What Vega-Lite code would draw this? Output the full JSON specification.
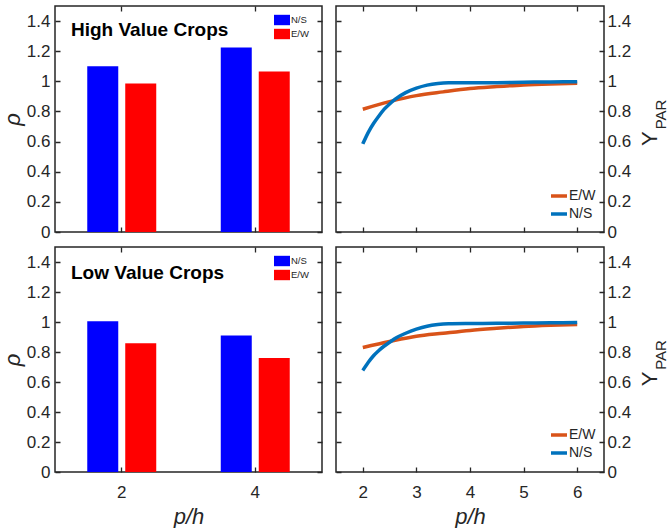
{
  "$schema": "https://vega.github.io/schema/vega-lite/v6.json",
  "padding": {"left": 0, "top": 5, "right": 0, "bottom": 0},
  "background": "white",
  "spacing": 5,
  "config": {
    "font": "Liberation Sans",
    "view": {"stroke": "#262626", "strokeWidth": 1.5},
    "axis": {"domain": false, "grid": true, "gridColor": "#262626", "gridOpacity": 1, "gridWidth": 1.3, "ticks": false, "tickSize": 0, "labelFont": "Liberation Sans", "labelFontSize": 17, "labelColor": "#262626", "labelPadding": 5, "titleFont": "Liberation Sans", "titleColor": "#262626", "titleFontWeight": "normal"},
    "legend": {"labelFont": "Liberation Sans", "labelColor": "#262626"}
  },
  "datasets": {
    "bars": [
      {"crop": "High", "ph": "2", "dir": "N/S", "rho": 1.10},
      {"crop": "High", "ph": "2", "dir": "E/W", "rho": 0.985},
      {"crop": "High", "ph": "4", "dir": "N/S", "rho": 1.225},
      {"crop": "High", "ph": "4", "dir": "E/W", "rho": 1.065},
      {"crop": "Low", "ph": "2", "dir": "N/S", "rho": 1.005},
      {"crop": "Low", "ph": "2", "dir": "E/W", "rho": 0.858},
      {"crop": "Low", "ph": "4", "dir": "N/S", "rho": 0.91},
      {"crop": "Low", "ph": "4", "dir": "E/W", "rho": 0.76}
    ],
    "lines": [
      {"crop": "High", "dir": "E/W", "ph": 2, "ypar": 0.815},
      {"crop": "High", "dir": "E/W", "ph": 2.5, "ypar": 0.865},
      {"crop": "High", "dir": "E/W", "ph": 3, "ypar": 0.905},
      {"crop": "High", "dir": "E/W", "ph": 3.5, "ypar": 0.93},
      {"crop": "High", "dir": "E/W", "ph": 4, "ypar": 0.952},
      {"crop": "High", "dir": "E/W", "ph": 4.5, "ypar": 0.965},
      {"crop": "High", "dir": "E/W", "ph": 5, "ypar": 0.976},
      {"crop": "High", "dir": "E/W", "ph": 5.5, "ypar": 0.983},
      {"crop": "High", "dir": "E/W", "ph": 6, "ypar": 0.988},
      {"crop": "High", "dir": "N/S", "ph": 2, "ypar": 0.585},
      {"crop": "High", "dir": "N/S", "ph": 2.1, "ypar": 0.66},
      {"crop": "High", "dir": "N/S", "ph": 2.2, "ypar": 0.72},
      {"crop": "High", "dir": "N/S", "ph": 2.3, "ypar": 0.77},
      {"crop": "High", "dir": "N/S", "ph": 2.4, "ypar": 0.815},
      {"crop": "High", "dir": "N/S", "ph": 2.5, "ypar": 0.85},
      {"crop": "High", "dir": "N/S", "ph": 2.6, "ypar": 0.88},
      {"crop": "High", "dir": "N/S", "ph": 2.8, "ypar": 0.925},
      {"crop": "High", "dir": "N/S", "ph": 3, "ypar": 0.955},
      {"crop": "High", "dir": "N/S", "ph": 3.2, "ypar": 0.975},
      {"crop": "High", "dir": "N/S", "ph": 3.4, "ypar": 0.986},
      {"crop": "High", "dir": "N/S", "ph": 3.6, "ypar": 0.99},
      {"crop": "High", "dir": "N/S", "ph": 4, "ypar": 0.99},
      {"crop": "High", "dir": "N/S", "ph": 4.5, "ypar": 0.991},
      {"crop": "High", "dir": "N/S", "ph": 5, "ypar": 0.994},
      {"crop": "High", "dir": "N/S", "ph": 5.5, "ypar": 0.996},
      {"crop": "High", "dir": "N/S", "ph": 6, "ypar": 0.998},
      {"crop": "Low", "dir": "E/W", "ph": 2, "ypar": 0.83},
      {"crop": "Low", "dir": "E/W", "ph": 2.5, "ypar": 0.87},
      {"crop": "Low", "dir": "E/W", "ph": 3, "ypar": 0.905},
      {"crop": "Low", "dir": "E/W", "ph": 3.5, "ypar": 0.925},
      {"crop": "Low", "dir": "E/W", "ph": 4, "ypar": 0.944},
      {"crop": "Low", "dir": "E/W", "ph": 4.5, "ypar": 0.958},
      {"crop": "Low", "dir": "E/W", "ph": 5, "ypar": 0.97},
      {"crop": "Low", "dir": "E/W", "ph": 5.5, "ypar": 0.978},
      {"crop": "Low", "dir": "E/W", "ph": 6, "ypar": 0.984},
      {"crop": "Low", "dir": "N/S", "ph": 2, "ypar": 0.677},
      {"crop": "Low", "dir": "N/S", "ph": 2.1, "ypar": 0.73},
      {"crop": "Low", "dir": "N/S", "ph": 2.2, "ypar": 0.775},
      {"crop": "Low", "dir": "N/S", "ph": 2.3, "ypar": 0.81},
      {"crop": "Low", "dir": "N/S", "ph": 2.4, "ypar": 0.84},
      {"crop": "Low", "dir": "N/S", "ph": 2.5, "ypar": 0.865},
      {"crop": "Low", "dir": "N/S", "ph": 2.6, "ypar": 0.89},
      {"crop": "Low", "dir": "N/S", "ph": 2.8, "ypar": 0.925},
      {"crop": "Low", "dir": "N/S", "ph": 3, "ypar": 0.952},
      {"crop": "Low", "dir": "N/S", "ph": 3.2, "ypar": 0.972},
      {"crop": "Low", "dir": "N/S", "ph": 3.4, "ypar": 0.983},
      {"crop": "Low", "dir": "N/S", "ph": 3.6, "ypar": 0.988},
      {"crop": "Low", "dir": "N/S", "ph": 4, "ypar": 0.99},
      {"crop": "Low", "dir": "N/S", "ph": 4.5, "ypar": 0.991},
      {"crop": "Low", "dir": "N/S", "ph": 5, "ypar": 0.993},
      {"crop": "Low", "dir": "N/S", "ph": 5.5, "ypar": 0.995},
      {"crop": "Low", "dir": "N/S", "ph": 6, "ypar": 0.996}
    ]
  },
  "vconcat": [
    {
      "hconcat": [
        {
          "width": 267, "height": 226,
          "data": {"name": "bars"},
          "transform": [{"filter": "datum.crop === 'High'"}],
          "layer": [
            {
              "mark": {"type": "bar"},
              "encoding": {
                "x": {"field": "ph", "type": "nominal", "scale": {"type": "band", "domain": ["2", "4"], "paddingInner": 0, "paddingOuter": 0}, "axis": {"orient": "bottom", "labels": false, "title": null, "gridDash": [5, 216]}},
                "xOffset": {"field": "dir", "type": "nominal", "scale": {"domain": ["N/S", "E/W"], "paddingInner": 0.184, "paddingOuter": 0.849}},
                "y": {"field": "rho", "type": "quantitative", "scale": {"domain": [0, 1.5], "nice": false}, "axis": {"orient": "left", "values": [0, 0.2, 0.4, 0.6, 0.8, 1, 1.2, 1.4], "format": "~g", "gridDash": [5, 257], "title": "ρ", "titleFontSize": 22, "titleFontStyle": "italic", "titlePadding": 2}},
                "color": {"field": "dir", "type": "nominal", "scale": {"domain": ["N/S", "E/W"], "range": ["#0000FF", "#FF0000"]}, "legend": {"title": null, "orient": "none", "legendX": 219, "legendY": 6, "padding": 0, "symbolType": "M-1,-0.65H1V0.65H-1Z", "symbolSize": 256, "symbolStrokeWidth": 0, "symbolOpacity": 1, "labelFontSize": 9.5, "labelOffset": 1, "rowPadding": 0}}
              }
            },
            {
              "data": {"values": [{"label": "High Value Crops"}]},
              "mark": {"type": "text", "fontSize": 19, "fontWeight": "bold", "align": "left", "baseline": "alphabetic", "dx": 16, "color": "#000000"},
              "encoding": {
                "text": {"field": "label"},
                "x": {"datum": "2", "type": "nominal", "bandPosition": 0, "axis": null},
                "y": {"datum": 1.3, "type": "quantitative", "axis": null}
              }
            }
          ],
          "resolve": {"axis": {"x": "independent", "y": "independent"}}
        },
        {
          "width": 268, "height": 226,
          "data": {"name": "lines"},
          "transform": [{"filter": "datum.crop === 'High'"}],
          "layer": [
            {
              "mark": {"type": "line", "strokeWidth": 3.5, "interpolate": "monotone"},
              "encoding": {
                "x": {"field": "ph", "type": "quantitative", "scale": {"domain": [1.5, 6.5], "nice": false, "zero": false}, "axis": {"orient": "bottom", "values": [2, 3, 4, 5, 6], "labels": false, "title": null, "gridDash": [5, 216]}},
                "y": {"field": "ypar", "type": "quantitative", "scale": {"domain": [0, 1.5], "nice": false}, "axis": {"orient": "right", "values": [0, 0.2, 0.4, 0.6, 0.8, 1, 1.2, 1.4], "format": "~g", "labelPadding": 3, "gridDash": [5, 258], "title": null}},
                "color": {"field": "dir", "type": "nominal", "scale": {"domain": ["E/W", "N/S"], "range": ["#D95319", "#0072BD"]}, "legend": {"title": null, "orient": "none", "legendX": 213, "legendY": 180, "padding": 0, "symbolType": "stroke", "symbolSize": 256, "symbolStrokeWidth": 3.5, "labelFontSize": 14, "labelOffset": 0, "rowPadding": 1}}
              }
            },
            {
              "data": {"values": [{"t": "Y", "px": 7.36, "py": 0.62, "fs": 22}, {"t": "PAR", "px": 7.57, "py": 0.78, "fs": 15}]},
              "mark": {"type": "text", "angle": 270, "align": "center", "baseline": "middle", "color": "#262626"},
              "encoding": {
                "text": {"field": "t"},
                "size": {"field": "fs", "type": "quantitative", "scale": null, "legend": null},
                "x": {"field": "px", "type": "quantitative", "axis": null},
                "y": {"field": "py", "type": "quantitative", "axis": null}
              }
            }
          ],
          "resolve": {"axis": {"x": "independent", "y": "independent"}}
        }
      ],
      "spacing": 12,
      "resolve": {"scale": {"color": "independent"}, "legend": {"color": "independent"}}
    },
    {
      "hconcat": [
        {
          "width": 267, "height": 225,
          "data": {"name": "bars"},
          "transform": [{"filter": "datum.crop === 'Low'"}],
          "layer": [
            {
              "mark": {"type": "bar"},
              "encoding": {
                "x": {"field": "ph", "type": "nominal", "scale": {"type": "band", "domain": ["2", "4"], "paddingInner": 0, "paddingOuter": 0}, "axis": {"orient": "bottom", "labelAngle": 0, "gridDash": [5, 215], "title": "p/h", "titleFontSize": 22, "titleFontStyle": "italic", "titlePadding": 6, "labelPadding": 12}},
                "xOffset": {"field": "dir", "type": "nominal", "scale": {"domain": ["N/S", "E/W"], "paddingInner": 0.184, "paddingOuter": 0.849}},
                "y": {"field": "rho", "type": "quantitative", "scale": {"domain": [0, 1.5], "nice": false}, "axis": {"orient": "left", "values": [0, 0.2, 0.4, 0.6, 0.8, 1, 1.2, 1.4], "format": "~g", "gridDash": [5, 257], "title": "ρ", "titleFontSize": 22, "titleFontStyle": "italic", "titlePadding": 2}},
                "color": {"field": "dir", "type": "nominal", "scale": {"domain": ["N/S", "E/W"], "range": ["#0000FF", "#FF0000"]}, "legend": {"title": null, "orient": "none", "legendX": 219, "legendY": 6, "padding": 0, "symbolType": "M-1,-0.65H1V0.65H-1Z", "symbolSize": 256, "symbolStrokeWidth": 0, "symbolOpacity": 1, "labelFontSize": 9.5, "labelOffset": 1, "rowPadding": 0}}
              }
            },
            {
              "data": {"values": [{"label": "Low Value Crops"}]},
              "mark": {"type": "text", "fontSize": 19, "fontWeight": "bold", "align": "left", "baseline": "alphabetic", "dx": 16, "color": "#000000"},
              "encoding": {
                "text": {"field": "label"},
                "x": {"datum": "2", "type": "nominal", "bandPosition": 0, "axis": null},
                "y": {"datum": 1.29, "type": "quantitative", "axis": null}
              }
            }
          ],
          "resolve": {"axis": {"x": "independent", "y": "independent"}}
        },
        {
          "width": 268, "height": 225,
          "data": {"name": "lines"},
          "transform": [{"filter": "datum.crop === 'Low'"}],
          "layer": [
            {
              "mark": {"type": "line", "strokeWidth": 3.5, "interpolate": "monotone"},
              "encoding": {
                "x": {"field": "ph", "type": "quantitative", "scale": {"domain": [1.5, 6.5], "nice": false, "zero": false}, "axis": {"orient": "bottom", "values": [2, 3, 4, 5, 6], "gridDash": [5, 215], "title": "p/h", "titleFontSize": 22, "titleFontStyle": "italic", "titlePadding": 6, "labelPadding": 12}},
                "y": {"field": "ypar", "type": "quantitative", "scale": {"domain": [0, 1.5], "nice": false}, "axis": {"orient": "right", "values": [0, 0.2, 0.4, 0.6, 0.8, 1, 1.2, 1.4], "format": "~g", "labelPadding": 3, "gridDash": [5, 258], "title": null}},
                "color": {"field": "dir", "type": "nominal", "scale": {"domain": ["E/W", "N/S"], "range": ["#D95319", "#0072BD"]}, "legend": {"title": null, "orient": "none", "legendX": 213, "legendY": 178, "padding": 0, "symbolType": "stroke", "symbolSize": 256, "symbolStrokeWidth": 3.5, "labelFontSize": 14, "labelOffset": 0, "rowPadding": 1}}
              }
            },
            {
              "data": {"values": [{"t": "Y", "px": 7.36, "py": 0.62, "fs": 22}, {"t": "PAR", "px": 7.57, "py": 0.78, "fs": 15}]},
              "mark": {"type": "text", "angle": 270, "align": "center", "baseline": "middle", "color": "#262626"},
              "encoding": {
                "text": {"field": "t"},
                "size": {"field": "fs", "type": "quantitative", "scale": null, "legend": null},
                "x": {"field": "px", "type": "quantitative", "axis": null},
                "y": {"field": "py", "type": "quantitative", "axis": null}
              }
            }
          ],
          "resolve": {"axis": {"x": "independent", "y": "independent"}}
        }
      ],
      "spacing": 12,
      "resolve": {"scale": {"color": "independent"}, "legend": {"color": "independent"}}
    }
  ]
}
